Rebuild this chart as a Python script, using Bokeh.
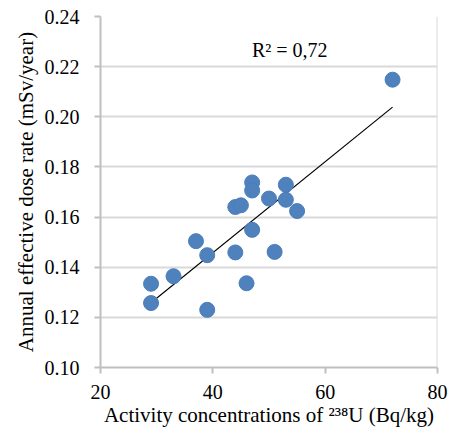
import numpy as np
from bokeh.plotting import figure
from bokeh.models import Span, FixedTicker, Label, CustomJSTickFormatter
from bokeh.embed import file_html
from bokeh.resources import INLINE

# Activity concentrations of 238U (Bq/kg)
u238 = [72, 29, 29, 33, 37, 39, 39, 44, 44, 45, 46, 47, 47, 47, 50, 51, 53, 53, 55]
# Annual effective dose rate (mSv/year)
dose = [0.2148, 0.1334, 0.1257, 0.1364, 0.1504, 0.1448, 0.1230, 0.1459, 0.1640,
        0.1647, 0.1336, 0.1738, 0.1706, 0.1549, 0.1674, 0.1461, 0.1729, 0.1669, 0.1624]
x_ticks = [20, 40, 60, 80]
y_ticks = [0.10, 0.12, 0.14, 0.16, 0.18, 0.20, 0.22, 0.24]
r2_label = "R\u00b2 = 0,72"

FONT = "Liberation Serif"
GRID = "#d9d9d9"
AXIS = "#bfbfbf"

p = figure(width=456, height=434, output_backend="svg", toolbar_location=None,
           x_range=(20, 80), y_range=(0.10, 0.24),
           min_border_left=100, min_border_right=19, min_border_top=16, min_border_bottom=67)
p.outline_line_color = None
p.background_fill_color = "white"
p.border_fill_color = "white"

p.xgrid.visible = False
p.ygrid.grid_line_color = GRID
p.ygrid.grid_line_width = 2
p.ygrid.ticker = FixedTicker(ticks=y_ticks)

p.add_layout(Span(location=80, dimension="height", line_color=GRID, line_width=2))

p.xaxis.ticker = FixedTicker(ticks=x_ticks)
p.yaxis.ticker = FixedTicker(ticks=y_ticks)
p.yaxis.formatter = CustomJSTickFormatter(code="return tick.toFixed(2);")

for ax in (p.xaxis, p.yaxis):
    ax.axis_line_color = AXIS
    ax.axis_line_width = 2
    ax.major_tick_line_color = AXIS
    ax.major_tick_line_width = 2
    ax.major_tick_out = 6
    ax.major_tick_in = 0
    ax.minor_tick_line_color = None
    ax.major_label_text_font = FONT
    ax.major_label_text_font_size = "20px"
    ax.major_label_text_font_style = "normal"
    ax.major_label_text_color = "black"
    ax.axis_label_text_font = FONT
    ax.axis_label_text_font_size = "21px"
    ax.axis_label_text_font_style = "normal"
    ax.axis_label_text_color = "black"

p.xaxis.major_label_standoff = 11
p.yaxis.major_label_standoff = 15
p.xaxis.axis_label = "Activity concentrations of \u00b2\u00b3\u2078U (Bq/kg)"
p.yaxis.axis_label = "Annual effective dose rate (mSv/year)"
p.xaxis.axis_label_standoff = 1
p.yaxis.axis_label_standoff = 4

# linear trend line fitted to the data
coef = np.polyfit(u238, dose, 1)
xs = [min(u238), max(u238)]
ys = [coef[0] * xv + coef[1] for xv in xs]
p.line(xs, ys, line_color="black", line_width=1.2)

p.scatter(u238, dose, size=15, fill_color="#4f81bd", line_color="#4a7ebb", line_width=1)

p.add_layout(Label(x=53.7, y=0.2265, text=r2_label, text_font=FONT, text_font_size="20px",
                   text_font_style="normal",
                   text_align="center", text_baseline="middle", text_color="black"))

open("out.html", "w").write(file_html(p, INLINE))
